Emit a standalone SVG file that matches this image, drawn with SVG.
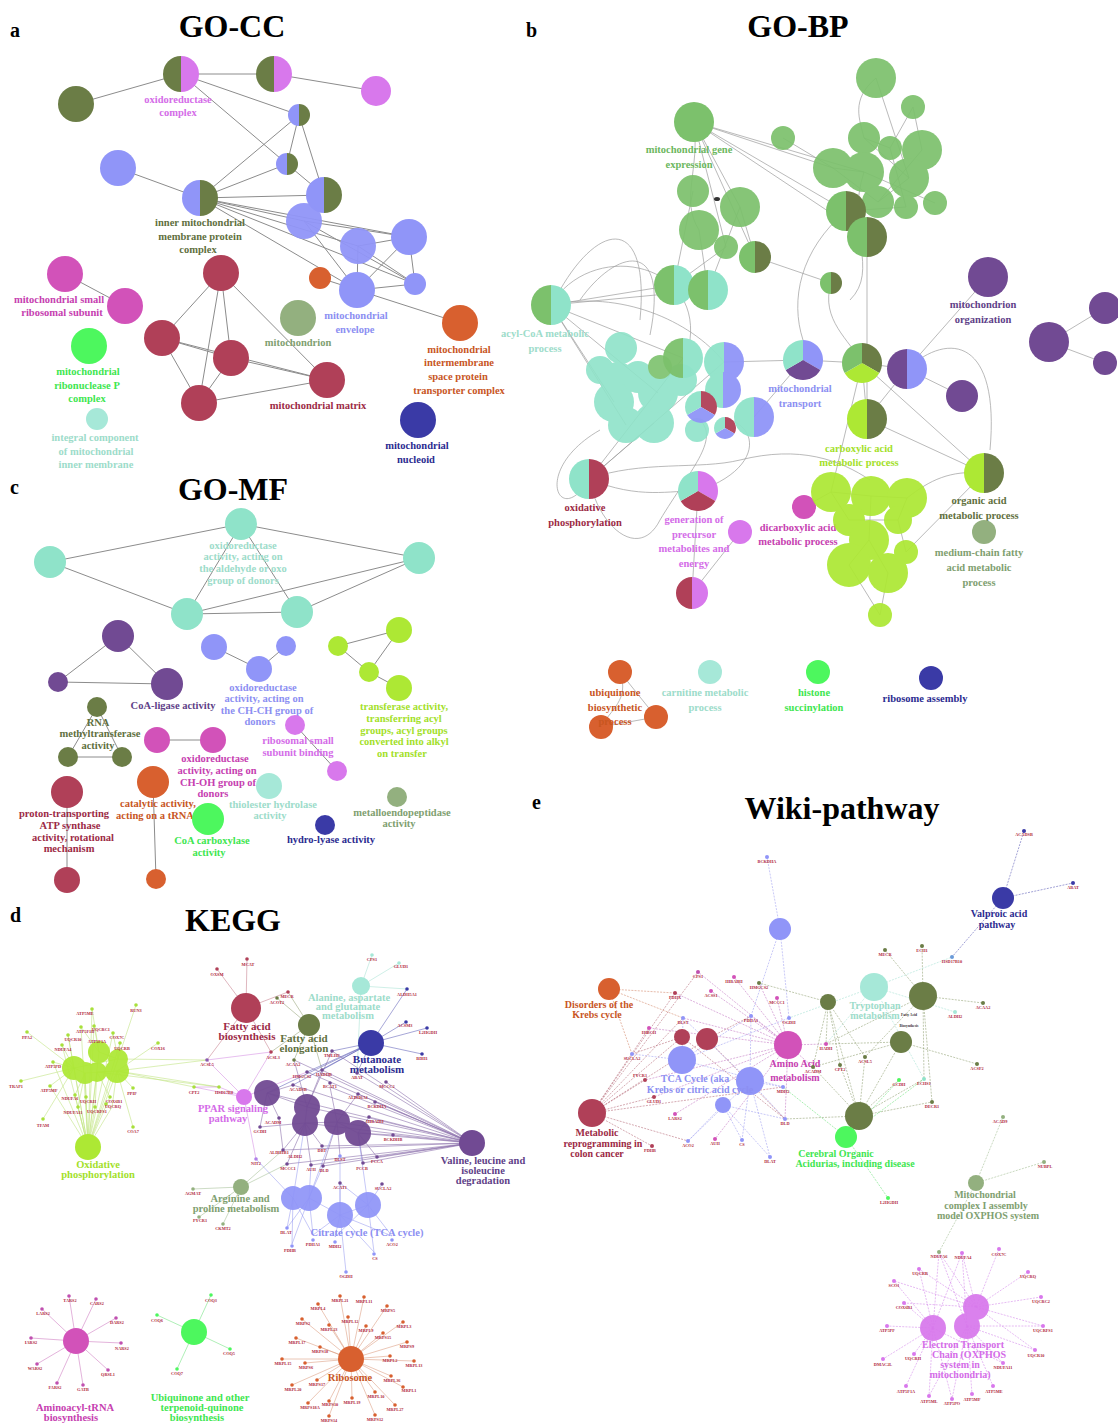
<svg xmlns="http://www.w3.org/2000/svg" xmlns:xlink="http://www.w3.org/1999/xlink" width="1118" height="1424" viewBox="0 0 1118 1424">
<style>
text{font-family:"Liberation Serif","Times New Roman",serif;font-weight:bold;text-anchor:middle}
.ttl{font-size:32px;fill:#000}
.pl{font-size:20px;text-anchor:start;fill:#000}
.l{font-size:10.5px}
.lk{font-size:11px}
.lw{font-size:10px}
.gt{font-size:4.3px;fill:#b0283c}
.tiny{font-size:3.6px;fill:#333}
.e{stroke:#8c8c8c;stroke-width:1;fill:none}
.eb{stroke:#9c9c9c;stroke-width:.7;fill:none}
.ek{stroke-width:.6;fill:none;opacity:.85}
.ew{stroke-width:.6;fill:none;stroke-dasharray:2 1.2;opacity:.9}
.ol{fill:#6b7d46}.vi{fill:#d878ec}.bl{fill:#9095f8}.cr{fill:#b04058}.pk{fill:#d252b9}.bg{fill:#4df75e}
.mt{fill:#a6e8d8}.or{fill:#d8602f}.sg{fill:#93b07f}.nv{fill:#3a3aa6}.pu{fill:#714a93}.gr{fill:#7cc16c}
.li{fill:#ade834}.mb{fill:#8fe3c9}
.tv{fill:#d46ce8}.to{fill:#5f7040}.tp{fill:#c640b0}.tg{fill:#3ee650}.tm{fill:#9ddcca}.ts{fill:#80a070}
.tb{fill:#8c8ff2}.tor{fill:#c8561f}.tc{fill:#9c2a45}.tn{fill:#2b2b90}.tpu{fill:#603f88}.tgr{fill:#6cb75e}.tl{fill:#a3df2a}
.go{opacity:.92}
</style>
<defs>
<g id="h-ol-vi"><path class="ol" d="M0,-1A1,1 0 0 0 0,1Z"/><path class="vi" d="M0,-1A1,1 0 0 1 0,1Z"/></g>
<g id="h-bl-ol"><path class="bl" d="M0,-1A1,1 0 0 0 0,1Z"/><path class="ol" d="M0,-1A1,1 0 0 1 0,1Z"/></g>
<g id="h-gr-ol"><path class="gr" d="M0,-1A1,1 0 0 0 0,1Z"/><path class="ol" d="M0,-1A1,1 0 0 1 0,1Z"/></g>
<g id="h-gr-mb"><path class="gr" d="M0,-1A1,1 0 0 0 0,1Z"/><path class="mb" d="M0,-1A1,1 0 0 1 0,1Z"/></g>
<g id="h-mb-bl"><path class="mb" d="M0,-1A1,1 0 0 0 0,1Z"/><path class="bl" d="M0,-1A1,1 0 0 1 0,1Z"/></g>
<g id="h-pu-bl"><path class="pu" d="M0,-1A1,1 0 0 0 0,1Z"/><path class="bl" d="M0,-1A1,1 0 0 1 0,1Z"/></g>
<g id="h-li-ol"><path class="li" d="M0,-1A1,1 0 0 0 0,1Z"/><path class="ol" d="M0,-1A1,1 0 0 1 0,1Z"/></g>
<g id="h-mb-cr"><path class="mb" d="M0,-1A1,1 0 0 0 0,1Z"/><path class="cr" d="M0,-1A1,1 0 0 1 0,1Z"/></g>
<g id="h-cr-vi"><path class="cr" d="M0,-1A1,1 0 0 0 0,1Z"/><path class="vi" d="M0,-1A1,1 0 0 1 0,1Z"/></g>
<g id="p-mb-cr-bl"><path class="cr" d="M0,0L0,-1A1,1 0 0 1 .866,.5Z"/><path class="bl" d="M0,0L.866,.5A1,1 0 0 1 -.866,.5Z"/><path class="mb" d="M0,0L-.866,.5A1,1 0 0 1 0,-1Z"/></g>
<g id="p-mb-bl-pu"><path class="bl" d="M0,0L0,-1A1,1 0 0 1 .866,.5Z"/><path class="pu" d="M0,0L.866,.5A1,1 0 0 1 -.866,.5Z"/><path class="mb" d="M0,0L-.866,.5A1,1 0 0 1 0,-1Z"/></g>
<g id="p-gr-ol-li"><path class="ol" d="M0,0L0,-1A1,1 0 0 1 .866,.5Z"/><path class="li" d="M0,0L.866,.5A1,1 0 0 1 -.866,.5Z"/><path class="gr" d="M0,0L-.866,.5A1,1 0 0 1 0,-1Z"/></g>
<g id="p-mb-vi-cr"><path class="vi" d="M0,0L0,-1A1,1 0 0 1 .866,.5Z"/><path class="cr" d="M0,0L.866,.5A1,1 0 0 1 -.866,.5Z"/><path class="mb" d="M0,0L-.866,.5A1,1 0 0 1 0,-1Z"/></g>
</defs>
<rect width="1118" height="1424" fill="#fff"/>

<g id="titles">
<text class="pl" x="10" y="37">a</text><text class="ttl" x="232" y="37">GO-CC</text>
<text class="pl" x="526" y="37">b</text><text class="ttl" x="798" y="37">GO-BP</text>
<text class="pl" x="10" y="494">c</text><text class="ttl" x="233" y="500">GO-MF</text>
<text class="pl" x="10" y="922">d</text><text class="ttl" x="233" y="931">KEGG</text>
<text class="pl" x="532" y="809">e</text><text class="ttl" x="842" y="819">Wiki-pathway</text>
</g>

<g id="connectors">
<g id="edges-a" class="e">
<path d="M76,104L181,74M181,74L274,74M274,74L376,91M181,74L299,115M181,74L287,164M299,115L287,164M299,115L200,198M299,115L324,195M287,164L200,198M287,164L324,195M118,168L200,198M200,198L324,195M200,198L304,221M200,198L358,246M200,198L409,237M200,198L357,290M200,198L415,284M304,221L409,237M304,221L357,290M304,221L415,284M358,246L409,237M358,246L357,290M358,246L415,284M409,237L357,290M409,237L415,284M357,290L415,284M320,278L460,323M65,274L125,306"/>
<path d="M221,273L162,338M221,273L231,358M221,273L199,403M221,273L327,380M162,338L231,358M162,338L199,403M162,338L327,380M231,358L199,403M199,403L327,380M231,358L327,380"/>
</g>
<g id="edges-b" class="eb">
<path d="M694,122L833,168M694,122L864,172M694,122L846,211M694,122L740,207M694,122L755,257M694,122L726,247M694,122L867,237M783,138L833,168M876,78C850,100 860,120 864,138M876,78L909,178M913,107L890,148M913,107L922,150M864,138L890,148M864,138L909,178M833,168L864,172M890,148L906,207M922,150L878,202M864,172L935,203M846,211L906,207M878,202L909,178M833,168L878,202"/>
<path d="M694,122C700,170 680,200 699,230M693,191L674,285M699,230L708,290M740,207L708,290M726,247L674,285M740,207L755,257M755,257L831,283M831,283C820,320 850,340 862,363M867,237L867,419M846,211C800,250 790,300 803,340M864,172C845,230 880,270 850,300"/>
<path d="M560,290C600,220 650,215 640,320M580,300C615,250 670,235 650,335M551,305C590,240 700,260 690,340M551,305L614,402M551,305L626,425M551,305L658,393M551,305L683,358M551,305C620,290 690,320 724,362M551,305L708,290M551,305L674,285"/>
<path d="M589,479C640,500 670,490 698,491M589,479L654,423M589,479L683,358M589,479L724,362M589,479C560,530 530,470 600,430M589,479C600,530 640,560 660,520C690,470 720,440 700,420M698,491L692,593M740,532L692,593M698,491C760,470 760,430 730,420M724,362L803,360M754,417L803,360M803,360L862,363M862,363L907,369M907,369L988,277M907,369L962,396M907,369C950,330 1000,340 990,450M862,363L984,473M867,419L984,473M867,419L862,363M862,363L831,492M907,369L867,419M1049,342L1105,308M1049,342L1105,363M589,479C640,460 700,470 740,460C800,445 840,460 870,480"/>
<path d="M831,492L871,496M871,496L907,498M849,520L898,520M869,540L849,565M869,540L888,573M898,520L906,552M888,573L880,615M849,565L880,615M831,492L849,520M907,498L898,520M871,496L869,540M984,473C950,470 930,480 907,498M906,552L984,473M804,507L831,492"/>
<path d="M620,672L656,717M656,717L601,727M620,672C630,700 610,710 601,727"/>
</g>
<g id="edges-c" class="e">
<path d="M241,524L50,562M241,524L419,558M241,524L187,614M241,524L297,612M50,562L187,614M187,614L297,612M187,614L419,558M297,612L419,558M118,636L58,682M118,636L167,684M58,682L167,684M214,647L259,669M259,669L286,646M338,646L399,630M338,646L369,672M399,630L369,672M369,672L399,688M97,707L68,757M97,707L122,757M68,757L122,757M157,740L213,740M295,725L337,771M67,792L67,880M153,782L156,879"/>
</g>
<g id="edges-d">
<g class="ek" stroke="#b8e070">
<path d="M92,1009L99,1052M136,1005L118,1059M27,1032L74,1068M81,1027L99,1052M94,1026L99,1052M68,1035L74,1068M113,1033L118,1059M62,1045L74,1068M120,1043L118,1059M158,1043L117,1071M53,1062L74,1068M21,1081L74,1068M50,1086L74,1068M133,1088L117,1071M75,1095L85,1073M86,1097L85,1073M110,1097L97,1072M78,1107L85,1073M95,1107L97,1072M112,1107L117,1071M43,1119L74,1068M133,1127L117,1071"/>
<path d="M88,1147L74,1068M88,1147L85,1073M88,1147L99,1052M88,1147L118,1059M88,1147L97,1072M88,1147L117,1071M88,1147L75,1095M88,1147L86,1097M88,1147L110,1097M88,1147L78,1107M88,1147L95,1107M88,1147L112,1107M88,1147L50,1086M88,1147L53,1062M88,1147L62,1045M88,1147L68,1035M88,1147L81,1027M88,1147L94,1026M88,1147L113,1033M88,1147L120,1043M88,1147L92,1009M74,1068L85,1073M99,1052L118,1059M97,1072L117,1071M85,1073L117,1071M74,1068L118,1059"/>
<path d="M117,1071L207,1060M118,1059L207,1060M117,1071L194,1087M117,1071L219,1087M97,1072L219,1087"/>
</g>
<g class="ek" stroke="#c07080"><path d="M246,1008L217,969M246,1008L247,959M246,1008L288,992M246,1008L207,1060M246,1008L271,1052"/></g>
<g class="ek" stroke="#8a9a6a"><path d="M309,1025L277,998M309,1025L288,992M309,1025L294,1060M309,1025L271,1052M309,1025L322,1070"/></g>
<g class="ek" stroke="#a0e0d0"><path d="M361,986L372,955M361,986L399,963M361,986L407,989M361,986L357,1073"/></g>
<g class="ek" stroke="#5050b0"><path d="M371,1043L407,989M371,1043L406,1022M371,1043L427,1028M371,1043L422,1054M371,1043L307,1072M371,1043L322,1070M371,1043L332,1051M371,1043L357,1073M371,1043L293,1085M371,1043L267,1093"/></g>
<g class="ek" stroke="#d080e0"><path d="M244,1097L207,1060M244,1097L194,1087M244,1097L219,1087M244,1097L271,1052M244,1097L256,1159M244,1097L307,1072M207,1060L271,1052M194,1087L219,1087"/></g>
<g class="ek" stroke="#7a5aa0">
<path d="M472,1143L267,1093M472,1143L307,1107M472,1143L305,1123M472,1143L337,1122M472,1143L358,1133M472,1143L386,1082M472,1143L375,1102M472,1143L369,1117M472,1143L393,1135M472,1143L377,1157M472,1143L358,1094M472,1143L357,1073M472,1143L332,1051M472,1143L294,1060M472,1143L322,1070M472,1143L293,1085M472,1143L283,1150M472,1143L322,1146M472,1143L363,1163M472,1143L287,1164M472,1143L311,1165M472,1143L323,1166M472,1143L307,1072M472,1143L330,1087"/>
<path d="M267,1093L293,1085M267,1093L279,1118M267,1093L260,1127M267,1093L307,1107M307,1107L305,1123M305,1123L337,1122M337,1122L358,1133M305,1123L283,1150M305,1123L322,1146M337,1122L340,1156M358,1133L377,1157M358,1133L363,1163M337,1122L330,1087M307,1107L332,1051M307,1107L322,1070M305,1123L287,1164M305,1123L311,1165M337,1122L323,1166M279,1118L283,1150M260,1127L305,1123M337,1122L358,1094M358,1133L369,1117M358,1133L393,1135M307,1107L294,1060"/>
</g>
<g class="ek" stroke="#8f93f0"><path d="M293,1198L287,1228M309,1198L313,1235M340,1215L335,1237M368,1205L392,1236M293,1198L292,1244M340,1215L346,1272M368,1205L374,1252M368,1205L382,1184M309,1198L323,1166M340,1215L340,1156M340,1215L340,1183M309,1198L287,1228M293,1198L313,1235M340,1215L313,1235M368,1205L335,1237M340,1215L392,1236M309,1198L292,1244M340,1215L374,1252M309,1198L340,1215M340,1215L368,1205M293,1198L305,1123M309,1198L337,1122M368,1205L358,1133M293,1198L256,1159M368,1205L340,1183M309,1198L311,1165"/></g>
<g class="ek" stroke="#9ab88a"><path d="M241,1187L193,1189M241,1187L199,1217M241,1187L223,1224M241,1187L283,1150M241,1187L287,1164"/></g>
<g class="ek" stroke="#c868b8"><path d="M76,1341L69,1296M76,1341L96,1299M76,1341L42,1309M76,1341L116,1318M76,1341L31,1338M76,1341L121,1343M76,1341L37,1364M76,1341L108,1370M76,1341L57,1383M76,1341L83,1385"/></g>
<g class="ek" stroke="#60e070"><path d="M194,1332L211,1295M194,1332L157,1315M194,1332L230,1349M194,1332L177,1369"/></g>
<g class="ek" stroke="#d89070"><path d="M351,1359L340,1296M351,1359L364,1297M351,1359L318,1304M351,1359L387,1306M351,1359L302,1319M351,1359L348,1317M351,1359L403,1322M351,1359L329,1325M351,1359L366,1326M351,1359L383,1333M351,1359L296,1338M351,1359L407,1342M351,1359L320,1347M351,1359L282,1359M351,1359L305,1363M351,1359L390,1356M351,1359L414,1361M351,1359L292,1385M351,1359L317,1380M351,1359L391,1376M351,1359L403,1387M351,1359L375,1392M351,1359L308,1403M351,1359L329,1401M351,1359L352,1398M351,1359L395,1405M351,1359L329,1416M351,1359L375,1415"/></g>
</g>
<g id="edges-e">
<g class="ew" stroke="#9a9af0"><path d="M780,929L767,857M780,929L789,1018M780,929L751,1016M682,1060L683,1018M682,1060L632,1054M682,1060L751,1016M682,1060L789,1018M750,1081L783,1087M750,1081L785,1119M750,1081L742,1140M750,1081L688,1141M750,1081L770,1157M723,1105L785,1119M723,1105L742,1140M723,1105L688,1141M750,1081L751,1016M682,1060L783,1087M723,1105L770,1157M750,1081L683,1018"/></g>
<g class="ew" stroke="#d08060"><path d="M609,989L675,993M609,989L632,1054M609,989L683,1018"/></g>
<g class="ew" stroke="#b06070"><path d="M592,1113L675,993M592,1113L683,1018M592,1113L645,1080M592,1113L654,1097M592,1113L652,1146M592,1113L698,972M592,1113L682,1037M592,1113L707,1039M592,1113L649,1028M592,1113L688,1141M592,1113L783,1087M682,1037L785,1119M707,1039L785,1119M707,1039L751,1016M682,1037L632,1054"/></g>
<g class="ew" stroke="#c070c0"><path d="M788,1045L698,972M788,1045L734,977M788,1045L711,991M788,1045L777,998M788,1045L759,983M788,1045L649,1028M788,1045L675,993M788,1045L654,1097M788,1045L675,1114M788,1045L715,1139M788,1045L645,1080M788,1045L826,1044M788,1045L813,1067M788,1045L785,1119M788,1045L683,1018M788,1045L751,1016"/></g>
<g class="ew" stroke="#8a9a6a"><path d="M828,1002L759,983M828,1002L826,1044M828,1002L840,1065M828,1002L865,1057M828,1002L859,1116M923,996L885,950M923,996L922,946M923,996L983,1003M923,996L826,1044M923,996L924,1079M923,996L932,1102M923,996L865,1057M901,1042L826,1044M901,1042L977,1064M901,1042L813,1067M901,1042L859,1116M859,1116L813,1067M859,1116L840,1065M859,1116L865,1057M859,1116L899,1080M859,1116L924,1079M859,1116L932,1102M859,1116L785,1119M828,1002L813,1067"/></g>
<g class="ew" stroke="#a0e0d0"><path d="M874,987L952,957M874,987L955,1012M874,987L789,1018M874,987L924,1079M874,987L826,1044"/></g>
<g class="ew" stroke="#60e070"><path d="M846,1137L783,1087M846,1137L899,1080M846,1137L888,1198M846,1137L924,1079"/></g>
<g class="ew" stroke="#5050b0"><path d="M1003,898L1024,831M1003,898L1073,883M1003,898L952,957"/></g>
<g class="ew" stroke="#9ab88a"><path d="M976,1183L1003,1117M976,1183L1044,1162M976,1183L939,1252"/></g>
<g class="ew" stroke="#d080e8"><path d="M976,1307L939,1252M976,1307L962,1253M976,1307L999,1249M976,1307L919,1269M976,1307L1028,1272M976,1307L1041,1297M976,1307L1043,1326M976,1307L1035,1350M976,1307L894,1281M976,1307L904,1303M967,1326L939,1252M967,1326L962,1253M967,1326L1003,1363M967,1326L952,1399M967,1326L972,1394M967,1326L993,1386M967,1326L929,1396M967,1326L1043,1326M967,1326L1035,1350M933,1328L887,1326M933,1328L883,1359M933,1328L914,1354M933,1328L906,1386M933,1328L929,1396M933,1328L952,1399M933,1328L939,1252M933,1328L919,1269M933,1328L904,1303M933,1328L894,1281M933,1328L962,1253M933,1328L1003,1363"/></g>
</g>
</g>

<g id="panel-a">
<g id="a-n1"><circle class="ol" cx="76" cy="104" r="18"/></g>
<g id="a-oxidoreductase-complex"><use href="#h-ol-vi" transform="translate(181,74) scale(18)"/><text class="l tv" x="178" y="103">oxidoreductase</text><text class="l tv" x="178" y="116">complex</text></g>
<g id="a-n3"><use href="#h-ol-vi" transform="translate(274,74) scale(18)"/></g>
<g id="a-n4"><circle class="vi" cx="376" cy="91" r="15"/></g>
<g id="a-n5"><use href="#h-bl-ol" transform="translate(299,115) scale(11)"/></g>
<g id="a-n6"><use href="#h-bl-ol" transform="translate(287,164) scale(11)"/></g>
<g id="a-n7"><circle class="bl" cx="118" cy="168" r="18"/></g>
<g id="a-inner-membrane"><use href="#h-bl-ol" transform="translate(200,198) scale(18)"/><text class="l to" x="200" y="226">inner mitochondrial</text><text class="l to" x="200" y="240">membrane protein</text><text class="l to" x="198" y="253">complex</text></g>
<g id="a-n9"><use href="#h-bl-ol" transform="translate(324,195) scale(18)"/></g>
<g id="a-n10" opacity=".95"><circle class="bl" cx="304" cy="221" r="18"/></g>
<g id="a-n11" opacity=".95"><circle class="bl" cx="358" cy="246" r="18"/></g>
<g id="a-n12"><circle class="bl" cx="409" cy="237" r="18"/></g>
<g id="a-envelope"><circle class="bl" cx="357" cy="290" r="18"/><text class="l tb" x="356" y="319">mitochondrial</text><text class="l tb" x="355" y="333">envelope</text></g>
<g id="a-n14"><circle class="bl" cx="415" cy="284" r="11"/></g>
<g id="a-n15"><circle class="or" cx="320" cy="278" r="11"/></g>
<g id="a-intermembrane"><circle class="or" cx="460" cy="323" r="18"/><text class="l tor" x="459" y="353">mitochondrial</text><text class="l tor" x="459" y="366">intermembrane</text><text class="l tor" x="458" y="380">space protein</text><text class="l tor" x="459" y="394">transporter complex</text></g>
<g id="a-mitochondrion"><circle class="sg" cx="298" cy="318" r="18"/><text class="l ts" x="298" y="346">mitochondrion</text></g>
<g id="a-n18"><circle class="pk" cx="65" cy="274" r="18"/></g>
<g id="a-small-ribosomal"><circle class="pk" cx="125" cy="306" r="18"/><text class="l tp" x="59" y="303">mitochondrial small</text><text class="l tp" x="62" y="316">ribosomal subunit</text></g>
<g id="a-ribonuclease"><circle class="bg" cx="89" cy="346" r="18"/><text class="l tg" x="88" y="375">mitochondrial</text><text class="l tg" x="87" y="389">ribonuclease P</text><text class="l tg" x="87" y="402">complex</text></g>
<g id="a-integral"><circle class="mt" cx="97" cy="419" r="11"/><text class="l tm" x="95" y="441">integral component</text><text class="l tm" x="96" y="455">of mitochondrial</text><text class="l tm" x="96" y="468">inner membrane</text></g>
<g id="a-c1"><circle class="cr" cx="221" cy="273" r="18"/></g>
<g id="a-c2"><circle class="cr" cx="162" cy="338" r="18"/></g>
<g id="a-c3"><circle class="cr" cx="231" cy="358" r="18"/></g>
<g id="a-c4"><circle class="cr" cx="199" cy="403" r="18"/></g>
<g id="a-matrix"><circle class="cr" cx="327" cy="380" r="18"/><text class="l tc" x="318" y="409">mitochondrial matrix</text></g>
<g id="a-nucleoid"><circle class="nv" cx="418" cy="420" r="18"/><text class="l tn" x="417" y="449">mitochondrial</text><text class="l tn" x="416" y="463">nucleoid</text></g>
</g>

<g id="panel-b">
<g id="b-green" class="go">
<circle class="gr" cx="876" cy="78" r="20"/><circle class="gr" cx="913" cy="107" r="12"/>
<circle class="gr" cx="783" cy="138" r="12"/><circle class="gr" cx="864" cy="138" r="16"/><circle class="gr" cx="890" cy="148" r="12"/>
<circle class="gr" cx="922" cy="150" r="20"/><circle class="gr" cx="833" cy="168" r="20"/><circle class="gr" cx="864" cy="172" r="20"/>
<circle class="gr" cx="909" cy="178" r="20"/><circle class="gr" cx="878" cy="202" r="16"/><circle class="gr" cx="906" cy="207" r="12"/>
<circle class="gr" cx="935" cy="203" r="12"/><circle class="gr" cx="693" cy="191" r="16"/><circle class="gr" cx="740" cy="207" r="20"/>
<circle class="gr" cx="699" cy="230" r="20"/><circle class="gr" cx="726" cy="247" r="12"/>
</g>
<g id="b-gene-expression"><circle class="gr" cx="694" cy="122" r="20"/><text class="l tgr" x="689" y="153">mitochondrial gene</text><text class="l tgr" x="689" y="168">expression</text></g>
<g id="b-blob"><ellipse cx="717" cy="199" rx="3" ry="2" fill="#333"/></g>
<g id="b-halves1">
<use href="#h-gr-ol" transform="translate(846,211) scale(20)"/><use href="#h-gr-ol" transform="translate(867,237) scale(20)"/>
<use href="#h-gr-ol" transform="translate(755,257) scale(16)"/><use href="#h-gr-ol" transform="translate(831,283) scale(11)"/>
<use href="#h-gr-mb" transform="translate(674,285) scale(20)"/><use href="#h-gr-mb" transform="translate(708,290) scale(20)"/>
</g>
<g id="b-acyl-coa"><use href="#h-gr-mb" transform="translate(551,305) scale(20)"/><text class="l tm" x="545" y="337">acyl-CoA metabolic</text><text class="l tm" x="545" y="352">process</text></g>
<g id="b-mint-cluster" opacity=".9">
<circle class="mb" cx="621" cy="348" r="16"/><circle class="mb" cx="600" cy="370" r="14"/><circle class="mb" cx="618" cy="380" r="18"/>
<circle class="mb" cx="614" cy="402" r="20"/><circle class="mb" cx="626" cy="425" r="18"/><circle class="mb" cx="654" cy="423" r="20"/>
<circle class="mb" cx="658" cy="393" r="20"/><circle class="mb" cx="638" cy="377" r="16"/><circle class="mb" cx="681" cy="380" r="16"/>
<circle class="mb" cx="697" cy="430" r="12"/><circle class="gr" cx="660" cy="367" r="12"/>
</g>
<g id="b-halves2" opacity=".95">
<use href="#h-gr-mb" transform="translate(683,358) scale(20)"/>
<use href="#h-mb-bl" transform="translate(724,362) scale(20)"/><use href="#h-mb-bl" transform="translate(723,390) scale(18)"/>
<use href="#p-mb-cr-bl" transform="translate(701,407) scale(16)"/><use href="#p-mb-cr-bl" transform="translate(725,428) scale(11)"/>
<use href="#h-mb-bl" transform="translate(754,417) scale(20)"/>
</g>
<g id="b-transport"><use href="#p-mb-bl-pu" transform="translate(803,360) scale(20)"/><text class="l tb" x="800" y="392">mitochondrial</text><text class="l tb" x="800" y="407">transport</text></g>
<g id="b-n3way"><use href="#p-gr-ol-li" transform="translate(862,363) scale(20)"/></g>
<g id="b-publ"><use href="#h-pu-bl" transform="translate(907,369) scale(20)"/></g>
<g id="b-pu1"><circle class="pu" cx="962" cy="396" r="16"/></g>
<g id="b-organization"><circle class="pu" cx="988" cy="277" r="20"/><text class="l tpu" x="983" y="308">mitochondrion</text><text class="l tpu" x="983" y="323">organization</text></g>
<g id="b-pu2"><circle class="pu" cx="1105" cy="308" r="16"/><circle class="pu" cx="1049" cy="342" r="20"/><circle class="pu" cx="1105" cy="363" r="12"/></g>
<g id="b-carboxylic"><use href="#h-li-ol" transform="translate(867,419) scale(20)"/></g>
<g id="b-organic"><use href="#h-li-ol" transform="translate(984,473) scale(20)"/><text class="l to" x="979" y="504">organic acid</text><text class="l to" x="979" y="519">metabolic process</text></g>
<g id="b-medium-chain"><circle class="sg" cx="984" cy="532" r="12"/><text class="l ts" x="979" y="556">medium-chain fatty</text><text class="l ts" x="979" y="571">acid metabolic</text><text class="l ts" x="979" y="586">process</text></g>
<g id="b-oxphos"><use href="#h-mb-cr" transform="translate(589,479) scale(20)"/><text class="l tc" x="585" y="511">oxidative</text><text class="l tc" x="585" y="526">phosphorylation</text></g>
<g id="b-generation"><use href="#p-mb-vi-cr" transform="translate(698,491) scale(20)"/></g>
<g id="b-vi1"><circle class="vi" cx="740" cy="532" r="12"/></g>
<g id="b-crvi"><use href="#h-cr-vi" transform="translate(692,593) scale(16)"/></g>
<g id="b-dicarboxylic"><circle class="pk" cx="804" cy="507" r="12"/><text class="l tp" x="798" y="531">dicarboxylic acid</text><text class="l tp" x="798" y="545">metabolic process</text></g>
<g id="b-lime-cluster" opacity=".93">
<circle class="li" cx="831" cy="492" r="20"/><circle class="li" cx="871" cy="496" r="20"/><circle class="li" cx="907" cy="498" r="20"/>
<circle class="li" cx="849" cy="520" r="16"/><circle class="li" cx="898" cy="520" r="14"/><circle class="li" cx="869" cy="540" r="20"/>
<circle class="li" cx="849" cy="565" r="22"/><circle class="li" cx="888" cy="573" r="20"/><circle class="li" cx="906" cy="552" r="12"/>
<circle class="li" cx="880" cy="615" r="12"/>
</g>
<g id="b-labels-over">
<text class="l tl" x="859" y="452">carboxylic acid</text><text class="l tl" x="859" y="466">metabolic process</text>
<text class="l tv" x="694" y="523">generation of</text><text class="l tv" x="694" y="538">precursor</text><text class="l tv" x="694" y="552">metabolites and</text><text class="l tv" x="694" y="567">energy</text>
</g>
<g id="b-ubiquinone"><circle class="or" cx="620" cy="672" r="12"/><circle class="or" cx="656" cy="717" r="12"/><circle class="or" cx="601" cy="727" r="12"/><text class="l tor" x="615" y="696">ubiquinone</text><text class="l tor" x="615" y="711">biosynthetic</text><text class="l tor" x="615" y="725">process</text></g>
<g id="b-carnitine"><circle class="mt" cx="710" cy="672" r="12"/><text class="l tm" x="705" y="696">carnitine metabolic</text><text class="l tm" x="705" y="711">process</text></g>
<g id="b-histone"><circle class="bg" cx="818" cy="672" r="12"/><text class="l tg" x="814" y="696">histone</text><text class="l tg" x="814" y="711">succinylation</text></g>
<g id="b-ribosome-assembly"><circle class="nv" cx="931" cy="678" r="12"/><text class="l tn" x="925" y="702">ribosome assembly</text></g>
</g>

<g id="panel-c">
<g id="c-aldehyde"><circle class="mb" cx="241" cy="524" r="16"/><circle class="mb" cx="50" cy="562" r="16"/><circle class="mb" cx="419" cy="558" r="16"/><circle class="mb" cx="187" cy="614" r="16"/><circle class="mb" cx="297" cy="612" r="16"/>
<text class="l tm" x="243" y="549">oxidoreductase</text><text class="l tm" x="243" y="560">activity, acting on</text><text class="l tm" x="243" y="572">the aldehyde or oxo</text><text class="l tm" x="243" y="584">group of donors</text></g>
<g id="c-coa-ligase"><circle class="pu" cx="118" cy="636" r="16"/><circle class="pu" cx="58" cy="682" r="10"/><circle class="pu" cx="167" cy="684" r="16"/><text class="l tpu" x="173" y="709">CoA-ligase activity</text></g>
<g id="c-chch"><circle class="bl" cx="214" cy="647" r="13"/><circle class="bl" cx="286" cy="646" r="10"/><circle class="bl" cx="259" cy="669" r="13"/>
<text class="l tb" x="263" y="691">oxidoreductase</text><text class="l tb" x="264" y="702">activity, acting on</text><text class="l tb" x="267" y="714">the CH-CH group of</text><text class="l tb" x="260" y="725">donors</text></g>
<g id="c-transferase"><circle class="li" cx="338" cy="646" r="10"/><circle class="li" cx="399" cy="630" r="13"/><circle class="li" cx="369" cy="672" r="10"/><circle class="li" cx="399" cy="688" r="13"/>
<text class="l tl" x="404" y="710">transferase activity,</text><text class="l tl" x="404" y="722">transferring acyl</text><text class="l tl" x="404" y="734">groups, acyl groups</text><text class="l tl" x="404" y="745">converted into alkyl</text><text class="l tl" x="402" y="757">on transfer</text></g>
<g id="c-rna"><circle class="ol" cx="97" cy="707" r="10"/><circle class="ol" cx="68" cy="757" r="10"/><circle class="ol" cx="122" cy="757" r="10"/>
<text class="l to" x="98" y="726">RNA</text><text class="l to" x="100" y="737">methyltransferase</text><text class="l to" x="98" y="749">activity</text></g>
<g id="c-choh"><circle class="pk" cx="157" cy="740" r="13"/><circle class="pk" cx="213" cy="740" r="13"/>
<text class="l tp" x="215" y="762">oxidoreductase</text><text class="l tp" x="217" y="774">activity, acting on</text><text class="l tp" x="218" y="786">CH-OH group of</text><text class="l tp" x="213" y="797">donors</text></g>
<g id="c-ribosomal"><circle class="vi" cx="295" cy="725" r="10"/><circle class="vi" cx="337" cy="771" r="10"/><text class="l tv" x="298" y="744">ribosomal small</text><text class="l tv" x="298" y="756">subunit binding</text></g>
<g id="c-proton"><circle class="cr" cx="67" cy="792" r="16"/><circle class="cr" cx="67" cy="880" r="13"/>
<text class="l tc" x="64" y="817">proton-transporting</text><text class="l tc" x="70" y="829">ATP synthase</text><text class="l tc" x="73" y="841">activity, rotational</text><text class="l tc" x="69" y="852">mechanism</text></g>
<g id="c-trna"><circle class="or" cx="153" cy="782" r="16"/><circle class="or" cx="156" cy="879" r="10"/><text class="l tor" x="158" y="807">catalytic activity,</text><text class="l tor" x="155" y="819">acting on a tRNA</text></g>
<g id="c-thiolester"><circle class="mt" cx="269" cy="786" r="13"/><text class="l tm" x="273" y="808">thiolester hydrolase</text><text class="l tm" x="270" y="819">activity</text></g>
<g id="c-coa-carboxylase"><circle class="bg" cx="208" cy="819" r="16"/><text class="l tg" x="212" y="844">CoA carboxylase</text><text class="l tg" x="209" y="856">activity</text></g>
<g id="c-metallo"><circle class="sg" cx="397" cy="797" r="10"/><text class="l ts" x="402" y="816">metalloendopeptidase</text><text class="l ts" x="399" y="827">activity</text></g>
<g id="c-hydro-lyase"><circle class="nv" cx="325" cy="825" r="10"/><text class="l tn" x="331" y="843">hydro-lyase activity</text></g>
</g>

<g id="panel-d">
<g id="d-oxphos-cluster" opacity=".93">
<circle class="li" cx="99" cy="1052" r="11"/><circle class="li" cx="118" cy="1059" r="10"/><circle class="li" cx="74" cy="1068" r="12"/>
<circle class="li" cx="85" cy="1073" r="11"/><circle class="li" cx="97" cy="1072" r="10"/><circle class="li" cx="117" cy="1071" r="12"/>
</g>
<g id="d-oxphos"><circle class="li" cx="88" cy="1147" r="13"/><text class="l tl" x="98" y="1168">Oxidative</text><text class="l tl" x="98" y="1178">phosphorylation</text></g>
<g id="d-genes-oxphos" fill="#a8e03a">
<g id="k-ATP5ME"><circle cx="92" cy="1009" r="1.8"/><text class="gt" x="85" y="1015">ATP5ME</text></g>
<g id="k-RUN3"><circle cx="136" cy="1005" r="1.8"/><text class="gt" x="136" y="1012">RUN3</text></g>
<g id="k-PPA2"><circle cx="27" cy="1032" r="1.8"/><text class="gt" x="27" y="1039">PPA2</text></g>
<g id="k-ATP5F1B"><circle cx="81" cy="1027" r="1.8"/><text class="gt" x="85" y="1033">ATP5F1B</text></g>
<g id="k-UQCRC1"><circle cx="94" cy="1026" r="1.8"/><text class="gt" x="101" y="1031">UQCRC1</text></g>
<g id="k-UQCR10"><circle cx="68" cy="1035" r="1.8"/><text class="gt" x="73" y="1041">UQCR10</text></g>
<g id="k-COX7C"><circle cx="113" cy="1033" r="1.8"/><text class="gt" x="117" y="1039">COX7C</text></g>
<g id="k-ATP5F1A"><text class="gt" x="97" y="1043">ATP5F1A</text></g>
<g id="k-NDUFA4"><circle cx="62" cy="1045" r="1.8"/><text class="gt" x="63" y="1051">NDUFA4</text></g>
<g id="k-UQCRB"><circle cx="120" cy="1043" r="1.8"/><text class="gt" x="122" y="1050">UQCRB</text></g>
<g id="k-COX16"><circle cx="158" cy="1043" r="1.8"/><text class="gt" x="158" y="1050">COX16</text></g>
<g id="k-ATP5PD"><circle cx="53" cy="1062" r="1.8"/><text class="gt" x="53" y="1068">ATP5PD</text></g>
<g id="k-TRAP1"><circle cx="21" cy="1081" r="1.8"/><text class="gt" x="16" y="1088">TRAP1</text></g>
<g id="k-ATP5MF"><circle cx="50" cy="1086" r="1.8"/><text class="gt" x="49" y="1092">ATP5MF</text></g>
<g id="k-PPIF"><circle cx="133" cy="1088" r="1.8"/><text class="gt" x="132" y="1095">PPIF</text></g>
<g id="k-NDUFA6"><circle cx="75" cy="1095" r="1.8"/><text class="gt" x="70" y="1100">NDUFA6</text></g>
<g id="k-UQCRH"><circle cx="86" cy="1097" r="1.8"/><text class="gt" x="88" y="1103">UQCRH</text></g>
<g id="k-COX6B1"><circle cx="110" cy="1097" r="1.8"/><text class="gt" x="114" y="1103">COX6B1</text></g>
<g id="k-NDUFA11"><circle cx="78" cy="1107" r="1.8"/><text class="gt" x="73" y="1114">NDUFA11</text></g>
<g id="k-UQCRFS1"><circle cx="95" cy="1107" r="1.8"/><text class="gt" x="97" y="1113">UQCRFS1</text></g>
<g id="k-UQCRQ"><circle cx="106" cy="1104" r="1.8"/><text class="gt" x="113" y="1108">UQCRQ</text></g>
<g id="k-TFAM"><circle cx="43" cy="1119" r="1.8"/><text class="gt" x="43" y="1127">TFAM</text></g>
<g id="k-COA7"><circle cx="133" cy="1127" r="1.8"/><text class="gt" x="133" y="1133">COA7</text></g>
</g>
<g id="d-fatty-biosynthesis"><circle class="cr" cx="246" cy="1008" r="15"/><text class="lk tc" x="247" y="1030">Fatty acid</text><text class="lk tc" x="247" y="1040">biosynthesis</text></g>
<g id="d-fatty-elongation"><circle class="ol" cx="309" cy="1025" r="11"/><text class="lk to" x="304" y="1042">Fatty acid</text><text class="lk to" x="304" y="1052">elongation</text></g>
<g id="d-alanine"><circle class="mt" cx="361" cy="986" r="9"/><text class="l tm" x="349" y="1001">Alanine, aspartate</text><text class="l tm" x="348" y="1010">and glutamate</text><text class="l tm" x="348" y="1019">metabolism</text></g>
<g id="d-butanoate"><circle class="nv" cx="371" cy="1043" r="13"/><text class="lk tn" x="377" y="1063">Butanoate</text><text class="lk tn" x="377" y="1073">metabolism</text></g>
<g id="d-purple-cluster" opacity=".95">
<circle class="pu" cx="267" cy="1093" r="13"/><circle class="pu" cx="307" cy="1107" r="13"/><circle class="pu" cx="305" cy="1123" r="13"/>
<circle class="pu" cx="337" cy="1122" r="13"/><circle class="pu" cx="358" cy="1133" r="13"/>
</g>
<g id="d-ppar"><circle class="vi" cx="244" cy="1097" r="8"/><text class="l tv" x="233" y="1112">PPAR signaling</text><text class="l tv" x="228" y="1122">pathway</text></g>
<g id="d-valine"><circle class="pu" cx="472" cy="1143" r="13"/><text class="l tpu" x="483" y="1164">Valine, leucine and</text><text class="l tpu" x="483" y="1174">isoleucine</text><text class="l tpu" x="483" y="1184">degradation</text></g>
<g id="d-tca-cluster" opacity=".93">
<circle class="bl" cx="293" cy="1198" r="12"/><circle class="bl" cx="309" cy="1198" r="13"/><circle class="bl" cx="340" cy="1215" r="13"/><circle class="bl" cx="368" cy="1205" r="13"/>
</g>
<g id="d-citrate-label"><text class="l tb" x="367" y="1236">Citrate cycle (TCA cycle)</text></g>
<g id="d-arginine"><circle class="sg" cx="241" cy="1187" r="8"/><text class="l ts" x="240" y="1202">Arginine and</text><text class="l ts" x="236" y="1212">proline metabolism</text></g>
<g id="d-genes-other">
<g id="k-OXSM" fill="#b04058"><circle cx="217" cy="969" r="1.8"/><text class="gt" x="217" y="976">OXSM</text></g>
<g id="k-MCAT" fill="#b04058"><circle cx="247" cy="959" r="1.8"/><text class="gt" x="248" y="966">MCAT</text></g>
<g id="k-MECR" fill="#b04058"><circle cx="288" cy="992" r="1.8"/><text class="gt" x="287" y="998">MECR</text></g>
<g id="k-ACOT2" fill="#6b7d46"><circle cx="277" cy="998" r="1.8"/><text class="gt" x="277" y="1004">ACOT2</text></g>
<g id="k-ACSL3" fill="#b04058"><circle cx="271" cy="1052" r="1.8"/><text class="gt" x="273" y="1059">ACSL3</text></g>
<g id="k-ACSL5" fill="#8a5ab0"><circle cx="207" cy="1060" r="1.8"/><text class="gt" x="207" y="1066">ACSL5</text></g>
<g id="k-ACAA2" fill="#6b7d46"><circle cx="294" cy="1060" r="1.8"/><text class="gt" x="293" y="1066">ACAA2</text></g>
<g id="k-TMLHE" fill="#714a93"><circle cx="332" cy="1051" r="1.8"/><text class="gt" x="332" y="1057">TMLHE</text></g>
<g id="k-HMGCS2" fill="#714a93"><circle cx="307" cy="1072" r="1.8"/><text class="gt" x="302" y="1078">HMGCS2</text></g>
<g id="k-HADHB" fill="#714a93"><circle cx="322" cy="1070" r="1.8"/><text class="gt" x="324" y="1076">HADHB</text></g>
<g id="k-ABAT" fill="#714a93"><circle cx="357" cy="1073" r="1.8"/><text class="gt" x="357" y="1079">ABAT</text></g>
<g id="k-MCCC2" fill="#714a93"><circle cx="386" cy="1082" r="1.8"/><text class="gt" x="387" y="1088">MCCC2</text></g>
<g id="k-ACADSB" fill="#714a93"><circle cx="293" cy="1085" r="1.8"/><text class="gt" x="298" y="1091">ACADSB</text></g>
<g id="k-BCAT1" fill="#714a93"><circle cx="330" cy="1083" r="1.8"/><text class="gt" x="330" y="1088">BCAT1</text></g>
<g id="k-ALDH6A1" fill="#714a93"><circle cx="358" cy="1094" r="1.8"/><text class="gt" x="358" y="1099">ALDH6A1</text></g>
<g id="k-BCKDHA" fill="#714a93"><circle cx="375" cy="1102" r="1.8"/><text class="gt" x="377" y="1108">BCKDHA</text></g>
<g id="k-HIBADH" fill="#714a93"><circle cx="369" cy="1117" r="1.8"/><text class="gt" x="375" y="1123">HIBADH</text></g>
<g id="k-BCKDHB" fill="#714a93"><circle cx="393" cy="1135" r="1.8"/><text class="gt" x="393" y="1141">BCKDHB</text></g>
<g id="k-ACADM" fill="#714a93"><circle cx="279" cy="1118" r="1.8"/><text class="gt" x="273" y="1124">ACADM</text></g>
<g id="k-GCDH" fill="#714a93"><circle cx="260" cy="1127" r="1.8"/><text class="gt" x="260" y="1133">GCDH</text></g>
<g id="k-NIT2" fill="#b080e8"><circle cx="256" cy="1159" r="1.8"/><text class="gt" x="256" y="1165">NIT2</text></g>
<g id="k-ALDH1B1" fill="#714a93"><circle cx="283" cy="1150" r="1.8"/><text class="gt" x="279" y="1154">ALDH1B1</text></g>
<g id="k-ALDH2" fill="#714a93"><text class="gt" x="295" y="1158">ALDH2</text></g>
<g id="k-DBT" fill="#714a93"><circle cx="322" cy="1146" r="1.8"/><text class="gt" x="322" y="1152">DBT</text></g>
<g id="k-DLST" fill="#9095f8"><circle cx="340" cy="1156" r="1.8"/><text class="gt" x="340" y="1161">DLST</text></g>
<g id="k-PCCA" fill="#714a93"><circle cx="377" cy="1157" r="1.8"/><text class="gt" x="377" y="1163">PCCA</text></g>
<g id="k-PCCB" fill="#714a93"><circle cx="363" cy="1163" r="1.8"/><text class="gt" x="362" y="1170">PCCB</text></g>
<g id="k-MCCC1" fill="#714a93"><circle cx="287" cy="1164" r="1.8"/><text class="gt" x="288" y="1170">MCCC1</text></g>
<g id="k-AUH" fill="#714a93"><circle cx="311" cy="1165" r="1.8"/><text class="gt" x="311" y="1171">AUH</text></g>
<g id="k-DLD" fill="#714a93"><circle cx="323" cy="1166" r="1.8"/><text class="gt" x="324" y="1172">DLD</text></g>
<g id="k-ACAT1" fill="#714a93"><circle cx="340" cy="1183" r="1.8"/><text class="gt" x="340" y="1189">ACAT1</text></g>
<g id="k-SUCLA2" fill="#714a93"><circle cx="382" cy="1184" r="1.8"/><text class="gt" x="383" y="1190">SUCLA2</text></g>
<g id="k-DLAT" fill="#9095f8"><circle cx="287" cy="1228" r="1.8"/><text class="gt" x="286" y="1234">DLAT</text></g>
<g id="k-PDHA1" fill="#9095f8"><circle cx="313" cy="1240" r="1.8"/><text class="gt" x="313" y="1246">PDHA1</text></g>
<g id="k-MDH2" fill="#9095f8"><circle cx="335" cy="1242" r="1.8"/><text class="gt" x="335" y="1248">MDH2</text></g>
<g id="k-ACO2" fill="#9095f8"><circle cx="392" cy="1240" r="1.8"/><text class="gt" x="392" y="1246">ACO2</text></g>
<g id="k-PDHB" fill="#9095f8"><circle cx="292" cy="1246" r="1.8"/><text class="gt" x="290" y="1252">PDHB</text></g>
<g id="k-OGDH" fill="#9095f8"><circle cx="346" cy="1272" r="1.8"/><text class="gt" x="346" y="1278">OGDH</text></g>
<g id="k-CS" fill="#9095f8"><circle cx="374" cy="1254" r="1.8"/><text class="gt" x="375" y="1260">CS</text></g>
<g id="k-AGMAT" fill="#93b07f"><circle cx="193" cy="1189" r="1.8"/><text class="gt" x="193" y="1195">AGMAT</text></g>
<g id="k-PYCR1" fill="#93b07f"><circle cx="199" cy="1217" r="1.8"/><text class="gt" x="200" y="1222">PYCR1</text></g>
<g id="k-CKMT2" fill="#93b07f"><circle cx="223" cy="1224" r="1.8"/><text class="gt" x="223" y="1230">CKMT2</text></g>
<g id="k-ACSM3" fill="#3a3aa6"><circle cx="406" cy="1022" r="1.8"/><text class="gt" x="405" y="1027">ACSM3</text></g>
<g id="k-L2HGDH" fill="#3a3aa6"><circle cx="427" cy="1028" r="1.8"/><text class="gt" x="428" y="1034">L2HGDH</text></g>
<g id="k-BDH1" fill="#3a3aa6"><circle cx="422" cy="1054" r="1.8"/><text class="gt" x="422" y="1060">BDH1</text></g>
<g id="k-ALDH5A1" fill="#3a3aa6"><circle cx="407" cy="989" r="1.8"/><text class="gt" x="407" y="996">ALDH5A1</text></g>
<g id="k-CPS1" fill="#a6e8d8"><circle cx="372" cy="955" r="1.8"/><text class="gt" x="372" y="961">CPS1</text></g>
<g id="k-GLUD1" fill="#a6e8d8"><circle cx="399" cy="963" r="1.8"/><text class="gt" x="401" y="968">GLUD1</text></g>
<g id="k-CPT2" fill="#a8e03a"><circle cx="194" cy="1087" r="1.8"/><text class="gt" x="194" y="1094">CPT2</text></g>
<g id="k-HSD17B8" fill="#a8e03a"><circle cx="219" cy="1087" r="1.8"/><text class="gt" x="224" y="1094">HSD17B8</text></g>
</g>
<g id="d-aminoacyl"><circle class="pk" cx="76" cy="1341" r="13"/><text class="l tp" x="75" y="1411">Aminoacyl-tRNA</text><text class="l tp" x="71" y="1421">biosynthesis</text></g>
<g id="d-aminoacyl-genes" fill="#c050b0">
<g id="k-TARS2"><circle cx="69" cy="1296" r="1.8"/><text class="gt" x="70" y="1302">TARS2</text></g>
<g id="k-CARS2"><circle cx="96" cy="1299" r="1.8"/><text class="gt" x="97" y="1305">CARS2</text></g>
<g id="k-LARS2"><circle cx="42" cy="1309" r="1.8"/><text class="gt" x="43" y="1315">LARS2</text></g>
<g id="k-DARS2"><circle cx="116" cy="1318" r="1.8"/><text class="gt" x="117" y="1324">DARS2</text></g>
<g id="k-IARS2"><circle cx="31" cy="1338" r="1.8"/><text class="gt" x="31" y="1344">IARS2</text></g>
<g id="k-NARS2"><circle cx="121" cy="1343" r="1.8"/><text class="gt" x="122" y="1350">NARS2</text></g>
<g id="k-WARS2"><circle cx="37" cy="1364" r="1.8"/><text class="gt" x="35" y="1370">WARS2</text></g>
<g id="k-QRSL1"><circle cx="108" cy="1370" r="1.8"/><text class="gt" x="108" y="1376">QRSL1</text></g>
<g id="k-FARS2"><circle cx="57" cy="1383" r="1.8"/><text class="gt" x="55" y="1389">FARS2</text></g>
<g id="k-GATB"><circle cx="83" cy="1385" r="1.8"/><text class="gt" x="83" y="1391">GATB</text></g>
</g>
<g id="d-ubiquinone"><circle class="bg" cx="194" cy="1332" r="13"/><text class="l tg" x="200" y="1401">Ubiquinone and other</text><text class="l tg" x="202" y="1411">terpenoid-quinone</text><text class="l tg" x="197" y="1421">biosynthesis</text></g>
<g id="d-ubiquinone-genes" fill="#4df75e">
<g id="k-COQ3"><circle cx="211" cy="1295" r="1.8"/><text class="gt" x="211" y="1302">COQ3</text></g>
<g id="k-COQ6"><circle cx="157" cy="1315" r="1.8"/><text class="gt" x="157" y="1322">COQ6</text></g>
<g id="k-COQ5"><circle cx="230" cy="1349" r="1.8"/><text class="gt" x="229" y="1355">COQ5</text></g>
<g id="k-COQ7"><circle cx="177" cy="1369" r="1.8"/><text class="gt" x="177" y="1375">COQ7</text></g>
</g>
<g id="d-ribosome"><circle class="or" cx="351" cy="1359" r="13"/><text class="l tor" x="350" y="1381">Ribosome</text></g>
<g id="d-ribosome-genes" fill="#d8602f">
<g id="k-MRPL21"><circle cx="340" cy="1296" r="1.8"/><text class="gt" x="340" y="1302">MRPL21</text></g>
<g id="k-MRPL11"><circle cx="364" cy="1297" r="1.8"/><text class="gt" x="364" y="1303">MRPL11</text></g>
<g id="k-MRPL4"><circle cx="318" cy="1304" r="1.8"/><text class="gt" x="318" y="1310">MRPL4</text></g>
<g id="k-MRPS5"><circle cx="387" cy="1306" r="1.8"/><text class="gt" x="388" y="1312">MRPS5</text></g>
<g id="k-MRPS2"><circle cx="302" cy="1319" r="1.8"/><text class="gt" x="303" y="1325">MRPS2</text></g>
<g id="k-MRPL12"><circle cx="348" cy="1317" r="1.8"/><text class="gt" x="350" y="1323">MRPL12</text></g>
<g id="k-MRPL3"><circle cx="403" cy="1322" r="1.8"/><text class="gt" x="404" y="1328">MRPL3</text></g>
<g id="k-MRPL23"><circle cx="329" cy="1325" r="1.8"/><text class="gt" x="329" y="1331">MRPL23</text></g>
<g id="k-MRPL9"><circle cx="366" cy="1326" r="1.8"/><text class="gt" x="366" y="1332">MRPL9</text></g>
<g id="k-MRPS15"><circle cx="383" cy="1333" r="1.8"/><text class="gt" x="383" y="1339">MRPS15</text></g>
<g id="k-MRPL17"><circle cx="296" cy="1338" r="1.8"/><text class="gt" x="297" y="1344">MRPL17</text></g>
<g id="k-MRPS9"><circle cx="407" cy="1342" r="1.8"/><text class="gt" x="407" y="1348">MRPS9</text></g>
<g id="k-MRPS18"><circle cx="320" cy="1347" r="1.8"/><text class="gt" x="320" y="1353">MRPS18</text></g>
<g id="k-MRPL15"><circle cx="282" cy="1359" r="1.8"/><text class="gt" x="283" y="1365">MRPL15</text></g>
<g id="k-MRPS6"><circle cx="305" cy="1363" r="1.8"/><text class="gt" x="306" y="1369">MRPS6</text></g>
<g id="k-MRPL2"><circle cx="390" cy="1356" r="1.8"/><text class="gt" x="390" y="1362">MRPL2</text></g>
<g id="k-MRPL13"><circle cx="414" cy="1361" r="1.8"/><text class="gt" x="414" y="1367">MRPL13</text></g>
<g id="k-MRPL20"><circle cx="292" cy="1385" r="1.8"/><text class="gt" x="293" y="1391">MRPL20</text></g>
<g id="k-MRPS17"><circle cx="317" cy="1380" r="1.8"/><text class="gt" x="317" y="1386">MRPS17</text></g>
<g id="k-MRPL36"><circle cx="391" cy="1376" r="1.8"/><text class="gt" x="392" y="1382">MRPL36</text></g>
<g id="k-MRPL1"><circle cx="403" cy="1387" r="1.8"/><text class="gt" x="409" y="1392">MRPL1</text></g>
<g id="k-MRPL10"><circle cx="375" cy="1392" r="1.8"/><text class="gt" x="376" y="1398">MRPL10</text></g>
<g id="k-MRPS18A"><circle cx="308" cy="1403" r="1.8"/><text class="gt" x="310" y="1409">MRPS18A</text></g>
<g id="k-MRPS10"><circle cx="329" cy="1401" r="1.8"/><text class="gt" x="330" y="1406">MRPS10</text></g>
<g id="k-MRPL19"><circle cx="352" cy="1398" r="1.8"/><text class="gt" x="352" y="1404">MRPL19</text></g>
<g id="k-MRPL27"><circle cx="395" cy="1405" r="1.8"/><text class="gt" x="395" y="1411">MRPL27</text></g>
<g id="k-MRPS14"><circle cx="329" cy="1416" r="1.8"/><text class="gt" x="329" y="1422">MRPS14</text></g>
<g id="k-MRPS12"><circle cx="375" cy="1415" r="1.8"/><text class="gt" x="375" y="1421">MRPS12</text></g>
</g>
</g>

<g id="panel-e">
<g id="e-blue-top"><circle class="bl" cx="780" cy="929" r="11"/></g>
<g id="e-krebs-disorders"><circle class="or" cx="609" cy="989" r="11"/><text class="lw tor" x="599" y="1008">Disorders of the</text><text class="lw tor" x="597" y="1018">Krebs cycle</text></g>
<g id="e-tryptophan"><circle class="mt" cx="874" cy="987" r="14"/><text class="lw tm" x="875" y="1009">Tryptophan</text><text class="lw tm" x="875" y="1019">metabolism</text></g>
<g id="e-olive"><circle class="ol" cx="828" cy="1002" r="8"/><circle class="ol" cx="923" cy="996" r="14"/><circle class="ol" cx="901" cy="1042" r="11"/><circle class="ol" cx="859" cy="1116" r="14"/></g>
<g id="e-crimson"><circle class="cr" cx="682" cy="1037" r="8"/><circle class="cr" cx="707" cy="1039" r="11"/></g>
<g id="e-metabolic-reprogramming"><circle class="cr" cx="592" cy="1113" r="14"/><text class="lw tc" x="597" y="1136">Metabolic</text><text class="lw tc" x="603" y="1147">reprogramming in</text><text class="lw tc" x="597" y="1157">colon cancer</text></g>
<g id="e-amino-acid"><circle class="pk" cx="788" cy="1045" r="14"/><text class="lw tp" x="795" y="1067">Amino Acid</text><text class="lw tp" x="795" y="1081">metabolism</text></g>
<g id="e-tca"><circle class="bl" cx="682" cy="1060" r="14"/><circle class="bl" cx="750" cy="1081" r="14"/><circle class="bl" cx="723" cy="1105" r="8"/><text class="lw tb" x="695" y="1082">TCA Cycle (aka</text><text class="lw tb" x="700" y="1093">Krebs or citric acid cycle</text></g>
<g id="e-cerebral"><circle class="bg" cx="846" cy="1137" r="11"/><text class="lw tg" x="836" y="1157">Cerebral Organic</text><text class="lw tg" x="855" y="1167">Acidurias, including disease</text></g>
<g id="e-valproic"><circle class="nv" cx="1003" cy="898" r="11"/><text class="lw tn" x="999" y="917">Valproic acid</text><text class="lw tn" x="997" y="928">pathway</text></g>
<g id="e-complex-I"><circle class="sg" cx="976" cy="1183" r="8"/><text class="lw ts" x="985" y="1198">Mitochondrial</text><text class="lw ts" x="986" y="1209">complex I assembly</text><text class="lw ts" x="988" y="1219">model OXPHOS system</text></g>
<g id="e-etc"><g opacity=".93"><circle class="vi" cx="976" cy="1307" r="13"/><circle class="vi" cx="967" cy="1326" r="13"/><circle class="vi" cx="933" cy="1328" r="13"/></g><text class="lw tv" x="963" y="1348">Electron Transport</text><text class="lw tv" x="969" y="1358">Chain (OXPHOS</text><text class="lw tv" x="960" y="1368">system in</text><text class="lw tv" x="960" y="1378">mitochondria)</text></g>
<g id="e-fatty-acid-note"><text class="tiny" x="909" y="1016">Fatty Acid</text><text class="tiny" x="909" y="1027">Biosynthesis</text></g>
<g id="e-genes">
<g id="w-BCKDHA" fill="#9095f8"><circle cx="767" cy="857" r="2"/><text class="gt" x="767" y="863">BCKDHA</text></g>
<g id="w-CPS1" fill="#c050b0"><circle cx="698" cy="972" r="2"/><text class="gt" x="698" y="978">CPS1</text></g>
<g id="w-HIBADH" fill="#d252b9"><circle cx="734" cy="977" r="2"/><text class="gt" x="734" y="983">HIBADH</text></g>
<g id="w-HMGCS2" fill="#6b7d46"><circle cx="759" cy="983" r="2"/><text class="gt" x="759" y="989">HMGCS2</text></g>
<g id="w-ACSS1" fill="#d252b9"><circle cx="711" cy="991" r="2"/><text class="gt" x="711" y="997">ACSS1</text></g>
<g id="w-MCCC1" fill="#d252b9"><circle cx="777" cy="998" r="2"/><text class="gt" x="777" y="1004">MCCC1</text></g>
<g id="w-PDHX" fill="#b04058"><circle cx="675" cy="993" r="2"/><text class="gt" x="675" y="999">PDHX</text></g>
<g id="w-DLST" fill="#9095f8"><circle cx="683" cy="1018" r="2"/><text class="gt" x="683" y="1024">DLST</text></g>
<g id="w-PDHA1" fill="#9095f8"><circle cx="751" cy="1016" r="2"/><text class="gt" x="751" y="1022">PDHA1</text></g>
<g id="w-OGDH" fill="#9095f8"><circle cx="789" cy="1018" r="2"/><text class="gt" x="789" y="1024">OGDH</text></g>
<g id="w-HIBCH" fill="#d252b9"><circle cx="649" cy="1028" r="2"/><text class="gt" x="649" y="1034">HIBCH</text></g>
<g id="w-SUCLA2" fill="#9095f8"><circle cx="632" cy="1054" r="2"/><text class="gt" x="632" y="1060">SUCLA2</text></g>
<g id="w-PYCR1" fill="#b04058"><circle cx="645" cy="1080" r="2"/><text class="gt" x="640" y="1077">PYCR1</text></g>
<g id="w-GLUD1" fill="#b04058"><circle cx="654" cy="1097" r="2"/><text class="gt" x="654" y="1103">GLUD1</text></g>
<g id="w-LARS2" fill="#d252b9"><circle cx="675" cy="1114" r="2"/><text class="gt" x="675" y="1120">LARS2</text></g>
<g id="w-MDH2" fill="#9095f8"><circle cx="783" cy="1087" r="2"/><text class="gt" x="783" y="1093">MDH2</text></g>
<g id="w-DLD" fill="#9095f8"><circle cx="785" cy="1119" r="2"/><text class="gt" x="785" y="1125">DLD</text></g>
<g id="w-ACO2" fill="#9095f8"><circle cx="688" cy="1141" r="2"/><text class="gt" x="688" y="1147">ACO2</text></g>
<g id="w-AUH" fill="#d252b9"><circle cx="715" cy="1139" r="2"/><text class="gt" x="715" y="1145">AUH</text></g>
<g id="w-CS" fill="#9095f8"><circle cx="742" cy="1140" r="2"/><text class="gt" x="742" y="1146">CS</text></g>
<g id="w-DLAT" fill="#9095f8"><circle cx="770" cy="1157" r="2"/><text class="gt" x="770" y="1163">DLAT</text></g>
<g id="w-PDHB" fill="#b04058"><circle cx="652" cy="1146" r="2"/><text class="gt" x="650" y="1152">PDHB</text></g>
<g id="w-ACADM" fill="#6b7d46"><circle cx="813" cy="1067" r="2"/><text class="gt" x="813" y="1073">ACADM</text></g>
<g id="w-HADH" fill="#d252b9"><circle cx="826" cy="1044" r="2"/><text class="gt" x="826" y="1050">HADH</text></g>
<g id="w-CPT2" fill="#6b7d46"><circle cx="840" cy="1065" r="2"/><text class="gt" x="840" y="1071">CPT2</text></g>
<g id="w-MECR" fill="#6b7d46"><circle cx="885" cy="950" r="2"/><text class="gt" x="885" y="956">MECR</text></g>
<g id="w-ECH1" fill="#6b7d46"><circle cx="922" cy="946" r="2"/><text class="gt" x="922" y="952">ECH1</text></g>
<g id="w-HSD17B10" fill="#6a9ad8"><circle cx="952" cy="957" r="2"/><text class="gt" x="952" y="963">HSD17B10</text></g>
<g id="w-ACAA2" fill="#6b7d46"><circle cx="983" cy="1003" r="2"/><text class="gt" x="983" y="1009">ACAA2</text></g>
<g id="w-ALDH2" fill="#a6e8d8"><circle cx="955" cy="1012" r="2"/><text class="gt" x="955" y="1018">ALDH2</text></g>
<g id="w-ACSL5" fill="#6b7d46"><circle cx="865" cy="1057" r="2"/><text class="gt" x="865" y="1063">ACSL5</text></g>
<g id="w-ACSF2" fill="#6b7d46"><circle cx="977" cy="1064" r="2"/><text class="gt" x="977" y="1070">ACSF2</text></g>
<g id="w-GCDH" fill="#4df75e"><circle cx="899" cy="1080" r="2"/><text class="gt" x="899" y="1086">GCDH</text></g>
<g id="w-ECHS1" fill="#8fe3c9"><circle cx="924" cy="1079" r="2"/><text class="gt" x="924" y="1085">ECHS1</text></g>
<g id="w-DECR1" fill="#6b7d46"><circle cx="932" cy="1102" r="2"/><text class="gt" x="932" y="1108">DECR1</text></g>
<g id="w-ACADSB" fill="#3a3aa6"><circle cx="1024" cy="831" r="2"/><text class="gt" x="1024" y="836">ACADSB</text></g>
<g id="w-ABAT" fill="#3a3aa6"><circle cx="1073" cy="883" r="2"/><text class="gt" x="1073" y="889">ABAT</text></g>
<g id="w-ACAD9" fill="#93b07f"><circle cx="1003" cy="1117" r="2"/><text class="gt" x="1000" y="1123">ACAD9</text></g>
<g id="w-NUBPL" fill="#93b07f"><circle cx="1044" cy="1162" r="2"/><text class="gt" x="1045" y="1168">NUBPL</text></g>
<g id="w-L2HGDH" fill="#4df75e"><circle cx="888" cy="1198" r="2"/><text class="gt" x="889" y="1204">L2HGDH</text></g>
<g id="w-NDUFA6" fill="#93b07f"><circle cx="939" cy="1252" r="2"/><text class="gt" x="939" y="1258">NDUFA6</text></g>
<g id="w-NDUFA4" fill="#d878ec"><circle cx="962" cy="1253" r="2"/><text class="gt" x="963" y="1259">NDUFA4</text></g>
<g id="w-COX7C" fill="#d878ec"><circle cx="999" cy="1249" r="2"/><text class="gt" x="999" y="1256">COX7C</text></g>
<g id="w-UQCRB" fill="#d878ec"><circle cx="919" cy="1269" r="2"/><text class="gt" x="920" y="1275">UQCRB</text></g>
<g id="w-UQCRQ" fill="#d878ec"><circle cx="1028" cy="1272" r="2"/><text class="gt" x="1028" y="1278">UQCRQ</text></g>
<g id="w-SCO1" fill="#d878ec"><circle cx="894" cy="1281" r="2"/><text class="gt" x="894" y="1287">SCO1</text></g>
<g id="w-COX6B1" fill="#d878ec"><circle cx="904" cy="1303" r="2"/><text class="gt" x="904" y="1309">COX6B1</text></g>
<g id="w-UQCRC2" fill="#d878ec"><circle cx="1041" cy="1297" r="2"/><text class="gt" x="1041" y="1303">UQCRC2</text></g>
<g id="w-ATP5PF" fill="#d878ec"><circle cx="887" cy="1326" r="2"/><text class="gt" x="887" y="1332">ATP5PF</text></g>
<g id="w-UQCRFS1" fill="#d878ec"><circle cx="1043" cy="1326" r="2"/><text class="gt" x="1043" y="1332">UQCRFS1</text></g>
<g id="w-DMAC2L" fill="#d878ec"><circle cx="883" cy="1359" r="2"/><text class="gt" x="883" y="1366">DMAC2L</text></g>
<g id="w-UQCRH" fill="#d878ec"><circle cx="914" cy="1354" r="2"/><text class="gt" x="913" y="1360">UQCRH</text></g>
<g id="w-UQCR10" fill="#d878ec"><circle cx="1035" cy="1350" r="2"/><text class="gt" x="1036" y="1357">UQCR10</text></g>
<g id="w-NDUFA11" fill="#d878ec"><circle cx="1003" cy="1363" r="2"/><text class="gt" x="1003" y="1369">NDUFA11</text></g>
<g id="w-ATP5F1A" fill="#d878ec"><circle cx="906" cy="1386" r="2"/><text class="gt" x="906" y="1393">ATP5F1A</text></g>
<g id="w-ATP5ML" fill="#d878ec"><circle cx="929" cy="1396" r="2"/><text class="gt" x="929" y="1403">ATP5ML</text></g>
<g id="w-ATP5PO" fill="#d878ec"><circle cx="952" cy="1399" r="2"/><text class="gt" x="952" y="1405">ATP5PO</text></g>
<g id="w-ATP5MF" fill="#d878ec"><circle cx="972" cy="1394" r="2"/><text class="gt" x="972" y="1401">ATP5MF</text></g>
<g id="w-ATP5ME" fill="#d878ec"><circle cx="993" cy="1386" r="2"/><text class="gt" x="994" y="1393">ATP5ME</text></g>
</g>
</g>
</svg>
